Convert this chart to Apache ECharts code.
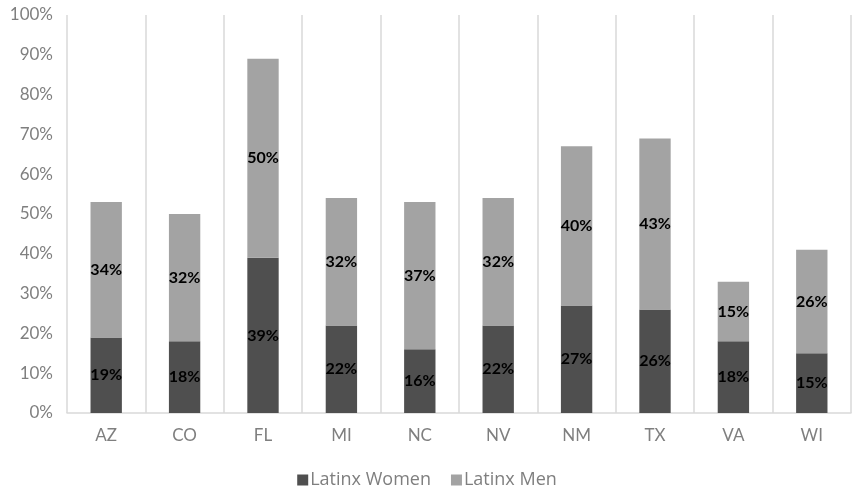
<!DOCTYPE html>
<html>
<head>
<meta charset="utf-8">
<script src="https://cdn.jsdelivr.net/npm/echarts@6/dist/echarts.min.js"></script>
<style>
  html, body { margin: 0; padding: 0; background: #fff; }
  #chart { width: 854px; height: 491px; }
</style>
</head>
<body>
<div id="chart"></div>
<script>
// States and shares (percent) by group
const states = ['AZ', 'CO', 'FL', 'MI', 'NC', 'NV', 'NM', 'TX', 'VA', 'WI'];
const latinxWomen = [19, 18, 39, 22, 16, 22, 27, 26, 18, 15];
const latinxMen = [34, 32, 50, 32, 37, 32, 40, 43, 15, 26];
const yTicks = [0, 10, 20, 30, 40, 50, 60, 70, 80, 90, 100];

const fontFamily = 'Lato, "Open Sans", sans-serif';
const labelStyle = {
  show: true,
  position: 'inside',
  formatter: p => p.value + '%',
  color: '#000',
  fontFamily: fontFamily,
  fontWeight: 'bold',
  fontSize: 16
};

const chart = echarts.init(document.getElementById('chart'), null, { renderer: 'canvas' });
chart.setOption({
  animation: false,
  backgroundColor: '#fff',
  grid: { left: 67, right: 3, top: 15, bottom: 78, containLabel: false },
  legend: {
    top: 466,
    left: 'center',
    itemWidth: 11,
    itemHeight: 11,
    itemGap: 20,
    icon: 'rect',
    textStyle: { color: '#7f7f7f', fontFamily: '"Open Sans", Lato, sans-serif', fontSize: 18, padding: [0, 0, 0, -3] },
    data: ['Latinx Women', 'Latinx Men']
  },
  xAxis: {
    type: 'category',
    data: states,
    boundaryGap: true,
    axisLine: { show: true, lineStyle: { color: '#d9d9d9', width: 1.5 } },
    axisTick: { show: false },
    splitLine: { show: true, lineStyle: { color: '#d9d9d9', width: 1.5 } },
    axisLabel: { color: '#7f7f7f', fontFamily: fontFamily, fontSize: 17, margin: 14 }
  },
  yAxis: {
    type: 'value',
    min: yTicks[0],
    max: yTicks[yTicks.length - 1],
    interval: 10,
    axisLine: { show: false },
    axisTick: { show: false },
    splitLine: { show: false },
    axisLabel: { color: '#7f7f7f', fontFamily: fontFamily, fontSize: 17, margin: 14, formatter: v => v + '%' }
  },
  series: [
    {
      name: 'Latinx Women',
      type: 'bar',
      stack: 'total',
      barWidth: '40%',
      data: latinxWomen,
      itemStyle: { color: '#4f4f4f' },
      label: labelStyle
    },
    {
      name: 'Latinx Men',
      type: 'bar',
      stack: 'total',
      barWidth: '40%',
      data: latinxMen,
      itemStyle: { color: '#a3a3a3' },
      label: labelStyle
    }
  ]
});
</script>
</body>
</html>
